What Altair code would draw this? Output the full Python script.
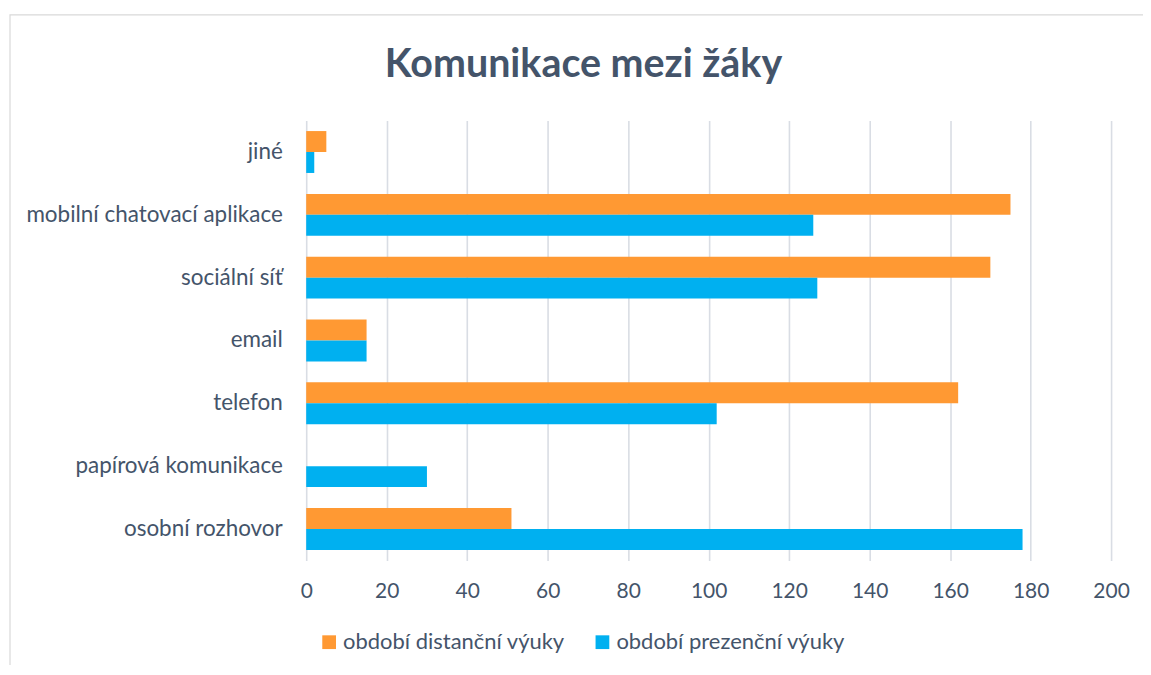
import altair as alt
import pandas as pd

categories = ["jiné", "mobilní chatovací aplikace", "sociální síť", "email",
              "telefon", "papírová komunikace", "osobní rozhovor"]
series_names = ["období distanční výuky", "období prezenční výuky"]
distancni = [5, 175, 170, 15, 162, 0, 51]
prezencni = [2, 126, 127, 15, 102, 30, 178]
colors = ["#FF9933", "#00B0F0"]
x_ticks = [0, 20, 40, 60, 80, 100, 120, 140, 160, 180, 200]
title_text = "Komunikace mezi žáky"

rows = []
for i, c in enumerate(categories):
    rows.append({"kategorie": c, "obdobi": series_names[0], "hodnota": distancni[i]})
    rows.append({"kategorie": c, "obdobi": series_names[1], "hodnota": prezencni[i]})
df = pd.DataFrame(rows)

W, H = 807, 441
FONT = "Lato"
TXT = "#44546A"

bars = alt.Chart(df).mark_bar(cornerRadius=0).encode(
    y=alt.Y("kategorie:N", sort=categories,
            scale=alt.Scale(paddingInner=0.333, paddingOuter=0.167),
            axis=alt.Axis(title=None, ticks=False, domain=False, labelPadding=24,
                          labelFontSize=22.5, labelColor=TXT, labelFont=FONT,
                          labelLimit=300, grid=False)),
    yOffset=alt.YOffset("obdobi:N", sort=series_names),
    x=alt.X("hodnota:Q", scale=alt.Scale(domain=[0, 200], nice=False),
            axis=alt.Axis(title=None, values=x_ticks, ticks=False, domain=False,
                          labelPadding=20, labelFontSize=21, labelColor=TXT,
                          labelFont=FONT, labelFlush=False, grid=True,
                          gridColor="#D9DDE4", gridWidth=1.6)),
    color=alt.Color("obdobi:N", sort=series_names,
                    scale=alt.Scale(domain=series_names, range=colors),
                    legend=alt.Legend(title=None, orient="none", direction="horizontal",
                                      legendX=12, legendY=512, symbolType="square",
                                      symbolSize=190, symbolStrokeWidth=0,
                                      labelFontSize=22, labelColor=TXT, labelFont=FONT,
                                      labelLimit=400, columnPadding=26, labelOffset=3)),
)

border = alt.Chart(pd.DataFrame({"a": [0]})).mark_rect(
    fill=None, stroke="#D9D9D9", strokeWidth=1.2, clip=False
).encode(x=alt.value(-297), x2=alt.value(W + 90), y=alt.value(-106), y2=alt.value(H + 160))

title = alt.Chart(pd.DataFrame({"t": [title_text]})).mark_text(
    font=FONT, fontSize=39.5, fontWeight="bold", color=TXT, align="center",
    baseline="middle", clip=False
).encode(text="t:N", x=alt.value(585 - 307), y=alt.value(64 - 120))

chart = alt.layer(border, bars, title).properties(
    width=W, height=H,
    padding={"left": 299, "top": 112, "right": 32, "bottom": 104},
    autosize=alt.AutoSizeParams(type="none"),
).configure(background="white").configure_view(stroke=None)

chart.save("out.html", embed_options={"renderer": "svg", "actions": False})
